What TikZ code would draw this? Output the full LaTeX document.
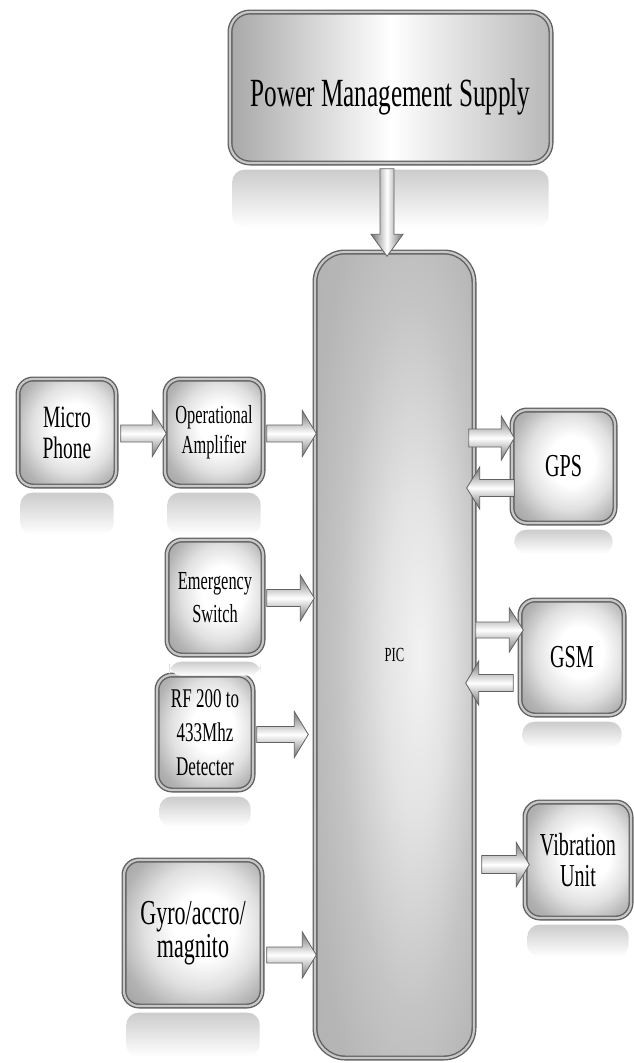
\documentclass[tikz,border=0pt]{standalone}
\usepackage{fontspec}
\setmainfont{Liberation Serif}[FakeStretch=0.63]
\usetikzlibrary{calc}

\pgfdeclareradialshading{boxshade}{\pgfpoint{5bp}{3bp}}{%
  color(0bp)=(white); color(11bp)=(white); color(21bp)=(black!12);
  color(30bp)=(black!30); color(40bp)=(black!40); color(60bp)=(black!46)}
\pgfdeclareradialshading{picshade}{\pgfpoint{8bp}{0bp}}{%
  color(0bp)=(black!5); color(10bp)=(black!11); color(22bp)=(black!23);
  color(32bp)=(black!29); color(60bp)=(black!32)}

\tikzset{
  blk/.style={rounded corners=15pt, draw=black!62, double=black!22, double distance=2.2pt,
    line width=1.4pt, shading=boxshade, align=center, inner sep=0pt, text=black},
  pmsbox/.style={blk, rounded corners=20pt, shading=axis, left color=black!34, right color=black!28, middle color=white},
  picbox/.style={blk, rounded corners=30pt, shading=picshade},
  refl/.style={draw=none, top color=black!20, bottom color=white, rounded corners=12pt},
  barrow/.style={draw=black!62, line width=0.8pt, top color=black!55, bottom color=black!55, middle color=white},
  fs/.style 2 args={font=\fontsize{#1pt}{#2pt}\selectfont},
}

% block arrow: [options]{from}{to}{shaft half width}{head half width}{head length}
\newcommand\barrow[6][]{%
  \path[barrow,#1] let \p1=(#2), \p2=(#3),
      \n1={atan2(\y2-\y1,\x2-\x1)}, \n2={veclen(\x2-\x1,\y2-\y1)} in
    [shift={(\p1)}, rotate=\n1]
    (0pt,-#4pt) -- ({\n2-#6pt},-#4pt) -- ({\n2-#6pt},-#5pt) -- (\n2,0pt)
    -- ({\n2-#6pt},#5pt) -- ({\n2-#6pt},#4pt) -- (0pt,#4pt) -- cycle;}

\newcommand\reflect[2]{%
  \path[refl] ($(#1.south west)+(3,6)$) rectangle ($(#1.south east)+(-3,6+#2)$);}

\begin{document}
\begin{tikzpicture}[x=1pt,y=-1pt]
\useasboundingbox (0,0) rectangle (634,1063);

% boxes
\node[pmsbox, fs={40}{40}, minimum width=321pt, minimum height=151pt] (pms) at (390.5,87.5) {\raisebox{-9pt}[\height][\depth]{Power Management Supply}};
\node[picbox, fs={20}{20}, minimum width=159pt, minimum height=806pt] (pic) at (394.5,655) {PIC};
\node[blk, fs={31}{31}, minimum width=98pt, minimum height=107pt] (mic) at (67,432.5) {Micro\\Phone};
\node[blk, fs={26}{30}, minimum width=98pt, minimum height=107pt] (amp) at (214,432.5) {Operational\\Amplifier};
\node[blk, fs={26}{33}, minimum width=96pt, minimum height=115pt] (emg) at (215,597.5) {Emergency\\Switch};
\node[blk, fs={27}{34}, minimum width=96pt, minimum height=115pt] (rf) at (205,732.5) {RF 200 to\\433Mhz\\Detecter};
\node[blk, fs={35}{33}, minimum width=138pt, minimum height=146pt] (gyro) at (193,933) {Gyro/accro/\\magnito};
\node[blk, fs={32}{32}, minimum width=103pt, minimum height=113pt] (gps) at (563.5,466.5) {GPS};
\node[blk, fs={32}{32}, minimum width=104pt, minimum height=115pt] (gsm) at (572,657.5) {GSM};
\node[blk, fs={32}{31}, minimum width=106pt, minimum height=116pt] (vib) at (578,860) {Vibration\\Unit};

% reflections
\reflect{pms}{58}
\reflect{mic}{42}
\reflect{amp}{42}
\reflect{emg}{14}
\reflect{rf}{30}
\reflect{gyro}{44}
\reflect{gps}{24}
\reflect{gsm}{26}
\reflect{vib}{32}

% arrows
\barrow[shading angle=90]{$(pms.south)+(-3.5,5)$}{$(pic.north)+(-7.5,5)$}{7}{16}{22}
\barrow{$(mic.east)+(4,1)$}{$(amp.west)+(2,1)$}{8.5}{23}{14}
\barrow{$(amp.east)+(3,1)$}{$(pic.west)+(2,-221.5)$}{8.5}{23}{14}
\barrow{$(emg.east)+(3,0.5)$}{$(pic.west)+(0,-57)$}{8.5}{23}{14}
\barrow{$(rf.east)+(3,2)$}{$(pic.west)+(-6,79.5)$}{8}{23}{14}
\barrow{$(gyro.east)+(4,22)$}{$(pic.west)+(2,300)$}{8}{23}{14}
\barrow{$(pic.east)+(-6,-217)$}{$(gps.west)+(3,-28.5)$}{9}{22}{13}
\barrow{$(gps.west)+(3,21.5)$}{$(pic.east)+(-8,-167)$}{8.5}{21}{13}
\barrow{$(pic.east)+(1,-25)$}{$(gsm.west)+(4,-27.5)$}{8}{22}{14}
\barrow{$(gsm.west)+(-6,25.5)$}{$(pic.east)+(-9,28)$}{8.5}{22}{13}
\barrow{$(pic.east)+(7,209.5)$}{$(vib.west)+(5,4.5)$}{9}{22}{13}
\end{tikzpicture}
\end{document}
